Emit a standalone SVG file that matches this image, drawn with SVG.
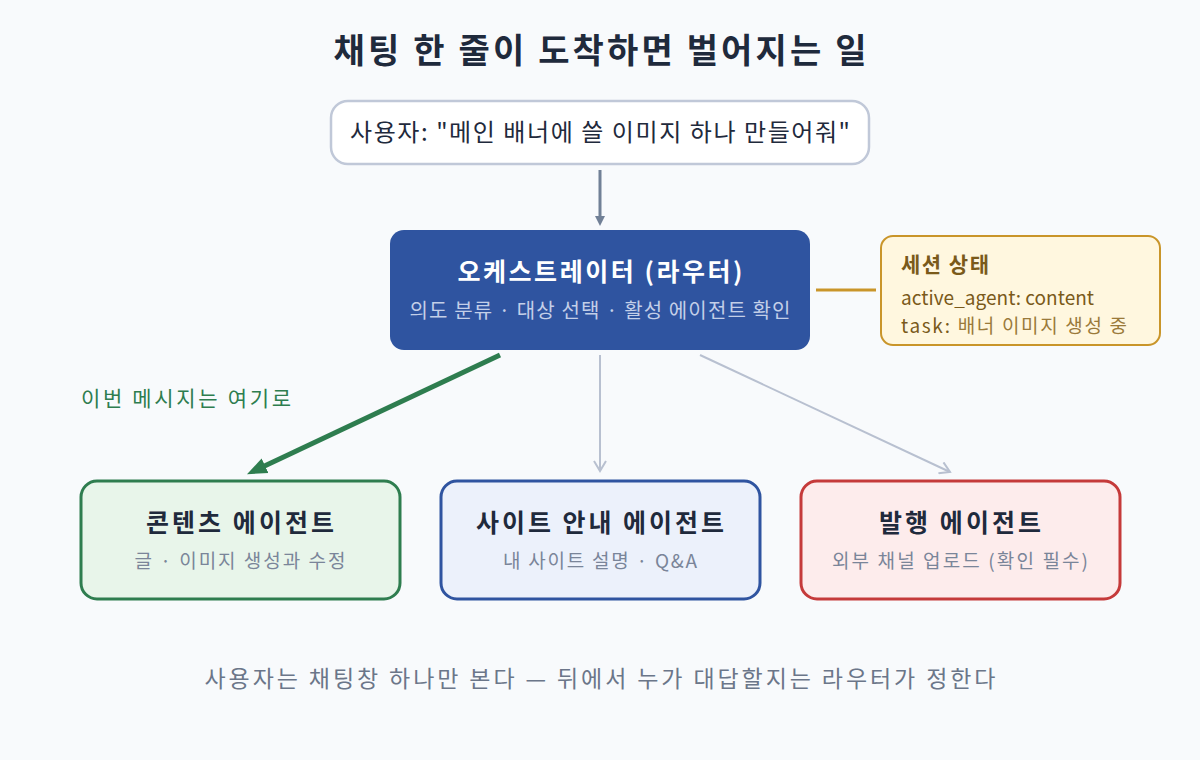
<svg xmlns="http://www.w3.org/2000/svg" width="1200" height="760" viewBox="0 0 1200 760">
<defs>
<style>
text{font-family:"Noto Sans CJK KR","Noto Sans",sans-serif}
.t{font-size:25px;font-weight:700;fill:#1f2a3c;text-anchor:middle}
.s{font-size:19px;fill:#7a8599;text-anchor:middle}
.box{stroke-width:3}
</style>
<marker id="ag" markerWidth="10" markerHeight="10" refX="6" refY="5" orient="auto" markerUnits="userSpaceOnUse" viewBox="0 0 10 10"><path d="M0,0 L10,5 L0,10 Z" fill="#718096"/></marker>
<marker id="agr" markerWidth="20" markerHeight="20" refX="10" refY="10" orient="auto" markerUnits="userSpaceOnUse" viewBox="0 0 20 20"><path d="M0,2 L20,10 L0,18 Z" fill="#2e7d4f"/></marker>
<marker id="al" markerWidth="14" markerHeight="14" refX="12" refY="7" orient="auto" markerUnits="userSpaceOnUse" viewBox="0 0 14 14"><path d="M2,1 L12,7 L2,13" fill="none" stroke="#b8c0d0" stroke-width="2"/></marker>
</defs>
<rect width="1200" height="760" fill="#f8fafc"/>
<text x="600" y="63" text-anchor="middle" font-size="34" font-weight="700" fill="#1f2a3c" textLength="533" lengthAdjust="spacing">채팅 한 줄이 도착하면 벌어지는 일</text>
<g id="connectors">
<line x1="600" y1="170" x2="600" y2="222" stroke="#718096" stroke-width="3" marker-end="url(#ag)"/>
<line x1="816" y1="290" x2="876" y2="290" stroke="#c9952a" stroke-width="3"/>
<line x1="500" y1="355" x2="256" y2="470" stroke="#2e7d4f" stroke-width="5" marker-end="url(#agr)"/>
<line x1="600" y1="355" x2="600" y2="471" stroke="#b8c0d0" stroke-width="2" marker-end="url(#al)"/>
<line x1="700" y1="355" x2="950" y2="472" stroke="#b8c0d0" stroke-width="2" marker-end="url(#al)"/>
</g>
<g id="user">
<rect x="331" y="101" width="538" height="63" rx="17" fill="#ffffff" stroke="#c0c8d8" stroke-width="2.5"/>
<text x="600" y="141" text-anchor="middle" font-size="24" fill="#1f2a3c" textLength="500" lengthAdjust="spacing">사용자: "메인 배너에 쓸 이미지 하나 만들어줘"</text>
</g>
<g id="orchestrator">
<rect x="390" y="230" width="420" height="120" rx="14" fill="#2f54a0"/>
<text x="600" y="281" text-anchor="middle" font-size="25" font-weight="700" fill="#ffffff" textLength="285" lengthAdjust="spacing">오케스트레이터 (라우터)</text>
<text x="600" y="318" text-anchor="middle" font-size="20" fill="#c3cfe8" textLength="381" lengthAdjust="spacing">의도 분류 · 대상 선택 · 활성 에이전트 확인</text>
</g>
<g id="session">
<rect x="881" y="236" width="279" height="109" rx="12" fill="#fff7df" stroke="#c9952a" stroke-width="2"/>
<text x="901" y="272" font-size="21" font-weight="700" fill="#7a5a1a" textLength="88" lengthAdjust="spacing">세션 상태</text>
<text x="901" y="305" font-size="19" fill="#7a5a1a" textLength="193" lengthAdjust="spacing">active_agent: content</text>
<text x="901" y="333" font-size="19" fill="#7a5a1a" textLength="226" lengthAdjust="spacing">task: <tspan fill="#9a7a3a">배너 이미지 생성 중</tspan></text>
</g>
<text id="route-label" x="81" y="406" font-size="21" fill="#2e7d4f" textLength="210" lengthAdjust="spacing">이번 메시지는 여기로</text>
<g id="content">
<rect class="box" x="81" y="481" width="319" height="118" rx="16" fill="#e8f5ea" stroke="#2e7d4f"/>
<text class="t" x="240" y="532" textLength="188" lengthAdjust="spacing">콘텐츠 에이전트</text>
<text class="s" x="240" y="568" textLength="211" lengthAdjust="spacing">글 · 이미지 생성과 수정</text>
</g>
<g id="site">
<rect class="box" x="441" y="481" width="319" height="118" rx="16" fill="#ecf1fb" stroke="#2f54a0"/>
<text class="t" x="600" y="532" textLength="248" lengthAdjust="spacing">사이트 안내 에이전트</text>
<text class="s" x="600" y="568" textLength="194" lengthAdjust="spacing">내 사이트 설명 · Q&amp;A</text>
</g>
<g id="publish">
<rect class="box" x="801" y="481" width="319" height="118" rx="16" fill="#fdecec" stroke="#c53a3a"/>
<text class="t" x="960" y="532" textLength="162" lengthAdjust="spacing">발행 에이전트</text>
<text class="s" x="960" y="568" textLength="256" lengthAdjust="spacing">외부 채널 업로드 (확인 필수)</text>
</g>
<text x="600" y="687" text-anchor="middle" font-size="23" fill="#6b7689" textLength="791" lengthAdjust="spacing">사용자는 채팅창 하나만 본다 — 뒤에서 누가 대답할지는 라우터가 정한다</text>
</svg>
